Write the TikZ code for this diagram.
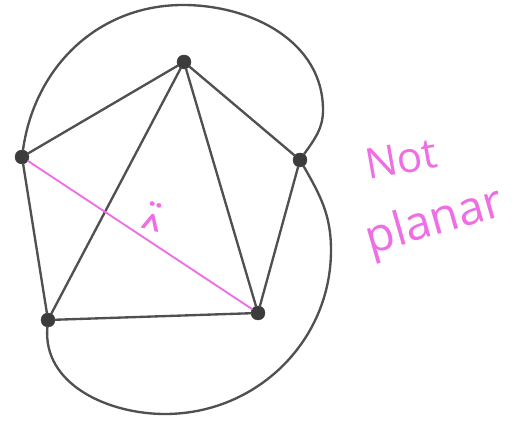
\documentclass[tikz,border=0pt]{standalone}
\usepackage{fontspec}
\usepackage{xcolor}
\usepackage{tikz}
\usetikzlibrary{positioning}
\newfontfamily\handfont{Open Sans}
\definecolor{pencil}{RGB}{80,80,80}
\definecolor{vertexfill}{RGB}{60,60,60}
\definecolor{pinkpen}{RGB}{238,110,228}

\begin{document}
\begin{tikzpicture}[
    x=0.03cm, y=0.03cm,
    vertex/.style={circle, draw=vertexfill, fill=vertexfill, inner sep=0pt, minimum size=0.42cm},
    edge/.style={draw=pencil, line width=2pt, line cap=round},
    pinkedge/.style={draw=pinkpen, line width=1.6pt, line cap=round},
    note/.style={text=pinkpen, font=\handfont, inner sep=0pt}
]
\useasboundingbox (0,0) rectangle (522,421);

% the five vertices
\node[vertex] (top) at (184, 359) {};
\node[vertex] (left) at (22, 264) {};
\node[vertex] (right) at (300, 261) {};
\node[vertex] (botleft) at (48, 101) {};
\node[vertex] (botright) at (258, 108) {};

% points the outer curves pass through
\coordinate (arctop) at (183, 416);
\coordinate (arcright) at (323, 311);
\coordinate (arcbot) at (165, 7);
\coordinate (arcright2) at (331, 171);

% straight edges
\draw[edge] (top) -- (left);
\draw[edge] (top) -- (right);
\draw[edge] (top) -- (botleft);
\draw[edge] (top) -- (botright);
\draw[edge] (left) -- (botleft);
\draw[edge] (right) -- (botright);
\draw[edge] (botleft) -- (botright);

% outer curves
\draw[edge] (left) to[out=82, in=180] (arctop) to[out=0, in=90] (arcright) to[out=-90, in=55] (right);
\draw[edge] (botleft) to[out=-95, in=180] (arcbot) to[out=0, in=-90] (arcright2) to[out=90, in=-60] (right);

% the crossing edge
\draw[pinkedge] (left) -- (botright);
\node[note, font=\handfont\bfseries\fontsize{30}{30}\selectfont, align=center, rotate=-15] (mark) at (152, 200) {¨\\[-20pt]\textasciicircum};

% label
\node[note, font=\handfont\fontsize{36}{36}\selectfont, rotate=10] (notlabel) at (401, 262) {Not};
\node[note, font=\handfont\fontsize{40}{40}\selectfont, rotate=16] (planarlabel) at (435, 198) {planar};

\end{tikzpicture}
\end{document}
